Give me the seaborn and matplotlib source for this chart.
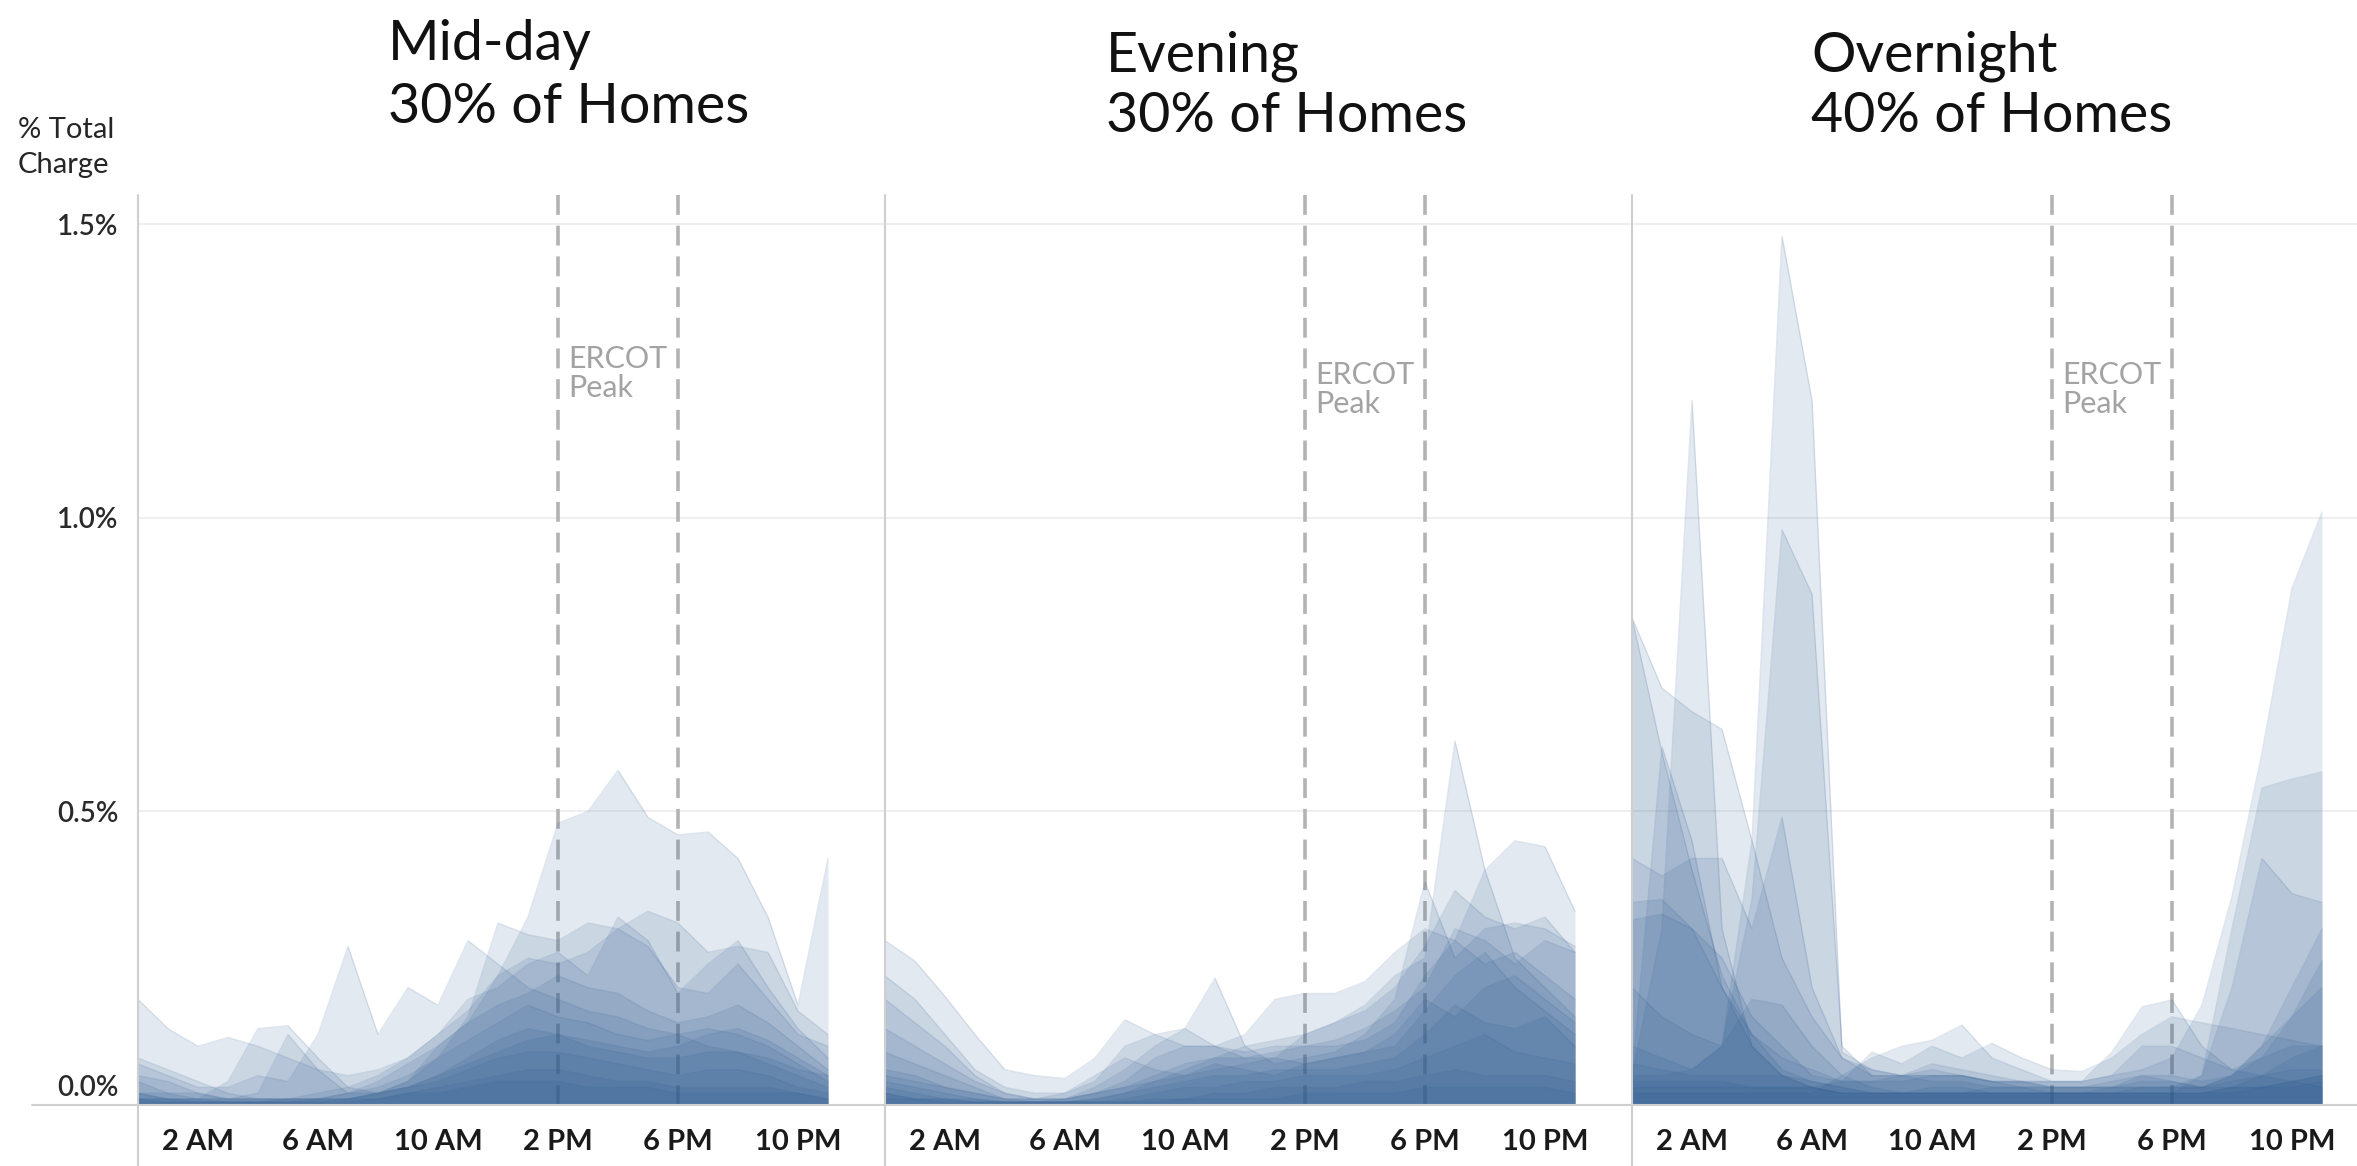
import numpy as np
import pandas as pd
import seaborn as sns
import matplotlib.pyplot as plt
import matplotlib.transforms as mtransforms
from matplotlib.lines import Line2D

# hourly share of total charge (%) per home
hours = list(range(24))
tick_hours = [2, 6, 10, 14, 18, 22]
tick_labels = ["2 AM", "6 AM", "10 AM", "2 PM", "6 PM", "10 PM"]
y_ticks = [0.0, 0.5, 1.0, 1.5]
y_tick_labels = ["0.0%", "0.5%", "1.0%", "1.5%"]
peak_hours = [14, 18]

panel_names = ["Mid-day", "Evening", "Overnight"]
panel_shares = ["30% of Homes", "30% of Homes", "40% of Homes"]

midday_a = [0.18, 0.13, 0.10, 0.115, 0.10, 0.08, 0.06, 0.05, 0.06, 0.08, 0.12, 0.16, 0.22, 0.32, 0.48, 0.50, 0.57, 0.49, 0.46, 0.465, 0.42, 0.32, 0.17, 0.42]
midday_b = [0.07, 0.05, 0.03, 0.03, 0.05, 0.04, 0.12, 0.27, 0.12, 0.20, 0.17, 0.28, 0.24, 0.20, 0.18, 0.16, 0.15, 0.13, 0.12, 0.10, 0.09, 0.08, 0.06, 0.05]
midday_c = [0.02, 0.01, 0.01, 0.04, 0.13, 0.135, 0.08, 0.03, 0.02, 0.04, 0.08, 0.15, 0.31, 0.29, 0.28, 0.31, 0.30, 0.33, 0.31, 0.26, 0.27, 0.26, 0.16, 0.12]
midday_d = [0.04, 0.02, 0.02, 0.01, 0.02, 0.12, 0.06, 0.02, 0.02, 0.04, 0.10, 0.14, 0.22, 0.25, 0.24, 0.26, 0.30, 0.27, 0.20, 0.19, 0.24, 0.18, 0.12, 0.10]
midday_e = [0.05, 0.04, 0.02, 0.01, 0.01, 0.01, 0.02, 0.03, 0.05, 0.08, 0.12, 0.18, 0.20, 0.24, 0.26, 0.22, 0.32, 0.28, 0.19, 0.24, 0.28, 0.20, 0.13, 0.08]
midday_f = [0.02, 0.02, 0.01, 0.01, 0.01, 0.01, 0.01, 0.02, 0.04, 0.07, 0.10, 0.14, 0.17, 0.19, 0.22, 0.20, 0.19, 0.16, 0.14, 0.15, 0.17, 0.14, 0.10, 0.06]
midday_g = [0.01, 0.01, 0.01, 0.005, 0.005, 0.01, 0.01, 0.02, 0.03, 0.05, 0.08, 0.11, 0.14, 0.17, 0.15, 0.14, 0.12, 0.11, 0.12, 0.13, 0.12, 0.10, 0.07, 0.04]
midday_h = [0.01, 0.01, 0.005, 0.005, 0.005, 0.005, 0.01, 0.01, 0.02, 0.03, 0.05, 0.08, 0.11, 0.13, 0.12, 0.10, 0.09, 0.08, 0.08, 0.09, 0.09, 0.07, 0.05, 0.03]
midday_i = [0.01, 0.005, 0.005, 0.005, 0.005, 0.005, 0.005, 0.01, 0.02, 0.03, 0.04, 0.06, 0.08, 0.09, 0.09, 0.08, 0.07, 0.06, 0.05, 0.06, 0.06, 0.05, 0.03, 0.02]
midday_j = [0.005, 0.005, 0.005, 0.005, 0.005, 0.005, 0.005, 0.005, 0.01, 0.02, 0.03, 0.04, 0.05, 0.06, 0.06, 0.05, 0.04, 0.04, 0.03, 0.03, 0.03, 0.03, 0.02, 0.01]
midday_k = [0.02, 0.01, 0.01, 0.01, 0.01, 0.01, 0.01, 0.01, 0.01, 0.02, 0.02, 0.03, 0.04, 0.04, 0.04, 0.03, 0.03, 0.03, 0.02, 0.02, 0.02, 0.02, 0.02, 0.01]
midday_l = [0.08, 0.06, 0.04, 0.02, 0.01, 0.01, 0.01, 0.01, 0.02, 0.03, 0.05, 0.07, 0.09, 0.11, 0.12, 0.11, 0.10, 0.09, 0.10, 0.12, 0.13, 0.11, 0.08, 0.05]

evening_a = [0.28, 0.245, 0.185, 0.12, 0.06, 0.05, 0.045, 0.08, 0.145, 0.12, 0.10, 0.10, 0.12, 0.18, 0.19, 0.19, 0.21, 0.26, 0.30, 0.28, 0.40, 0.45, 0.44, 0.33]
evening_b = [0.02, 0.01, 0.01, 0.005, 0.005, 0.005, 0.01, 0.02, 0.03, 0.04, 0.06, 0.08, 0.10, 0.11, 0.12, 0.14, 0.17, 0.22, 0.25, 0.62, 0.40, 0.25, 0.20, 0.15]
evening_c = [0.22, 0.18, 0.12, 0.06, 0.03, 0.02, 0.02, 0.04, 0.10, 0.12, 0.13, 0.10, 0.08, 0.08, 0.12, 0.14, 0.16, 0.20, 0.27, 0.365, 0.32, 0.30, 0.32, 0.26]
evening_d = [0.18, 0.14, 0.10, 0.05, 0.02, 0.01, 0.01, 0.03, 0.06, 0.10, 0.13, 0.216, 0.10, 0.07, 0.08, 0.09, 0.12, 0.18, 0.38, 0.25, 0.30, 0.31, 0.30, 0.27]
evening_e = [0.13, 0.10, 0.07, 0.04, 0.02, 0.01, 0.01, 0.02, 0.04, 0.08, 0.10, 0.10, 0.09, 0.10, 0.10, 0.11, 0.13, 0.16, 0.20, 0.30, 0.28, 0.24, 0.28, 0.26]
evening_f = [0.09, 0.07, 0.05, 0.03, 0.01, 0.01, 0.01, 0.02, 0.03, 0.05, 0.07, 0.08, 0.08, 0.09, 0.10, 0.10, 0.11, 0.14, 0.22, 0.28, 0.24, 0.26, 0.22, 0.18]
evening_g = [0.06, 0.05, 0.03, 0.02, 0.01, 0.005, 0.005, 0.01, 0.02, 0.04, 0.05, 0.06, 0.07, 0.08, 0.07, 0.08, 0.09, 0.10, 0.16, 0.22, 0.26, 0.20, 0.16, 0.12]
evening_h = [0.04, 0.03, 0.02, 0.01, 0.005, 0.005, 0.005, 0.01, 0.02, 0.03, 0.04, 0.05, 0.05, 0.06, 0.06, 0.06, 0.07, 0.08, 0.12, 0.17, 0.14, 0.13, 0.15, 0.10]
evening_i = [0.03, 0.02, 0.01, 0.01, 0.005, 0.005, 0.005, 0.005, 0.01, 0.02, 0.03, 0.03, 0.04, 0.04, 0.05, 0.05, 0.05, 0.06, 0.08, 0.10, 0.12, 0.09, 0.08, 0.07]
evening_j = [0.02, 0.01, 0.01, 0.005, 0.005, 0.005, 0.005, 0.005, 0.005, 0.01, 0.01, 0.02, 0.02, 0.03, 0.03, 0.03, 0.04, 0.04, 0.05, 0.06, 0.05, 0.05, 0.05, 0.04]
evening_k = [0.01, 0.01, 0.005, 0.005, 0.005, 0.005, 0.005, 0.005, 0.005, 0.005, 0.01, 0.01, 0.01, 0.01, 0.02, 0.02, 0.02, 0.02, 0.03, 0.03, 0.03, 0.03, 0.03, 0.02]
evening_l = [0.05, 0.04, 0.03, 0.02, 0.01, 0.01, 0.02, 0.05, 0.08, 0.06, 0.05, 0.07, 0.06, 0.05, 0.07, 0.08, 0.09, 0.12, 0.18, 0.15, 0.20, 0.22, 0.18, 0.14]

overnight_a = [0.20, 0.15, 0.12, 0.10, 0.45, 1.48, 1.20, 0.09, 0.06, 0.05, 0.05, 0.05, 0.04, 0.04, 0.03, 0.03, 0.03, 0.03, 0.03, 0.03, 0.05, 0.10, 0.20, 0.30]
overnight_b = [0.05, 0.30, 1.20, 0.30, 0.10, 0.05, 0.03, 0.02, 0.02, 0.02, 0.03, 0.03, 0.02, 0.02, 0.02, 0.02, 0.02, 0.02, 0.02, 0.02, 0.03, 0.05, 0.08, 0.10]
overnight_c = [0.10, 0.08, 0.06, 0.10, 0.35, 0.98, 0.87, 0.10, 0.05, 0.05, 0.04, 0.04, 0.03, 0.03, 0.02, 0.02, 0.03, 0.05, 0.04, 0.03, 0.05, 0.10, 0.15, 0.20]
overnight_d = [0.83, 0.71, 0.67, 0.64, 0.45, 0.25, 0.15, 0.08, 0.06, 0.05, 0.07, 0.06, 0.05, 0.04, 0.04, 0.04, 0.05, 0.06, 0.08, 0.17, 0.355, 0.60, 0.88, 1.01]
overnight_e = [0.83, 0.60, 0.40, 0.22, 0.12, 0.06, 0.04, 0.03, 0.02, 0.02, 0.02, 0.02, 0.02, 0.02, 0.02, 0.02, 0.02, 0.03, 0.03, 0.05, 0.30, 0.54, 0.555, 0.567]
overnight_f = [0.05, 0.61, 0.45, 0.20, 0.10, 0.05, 0.03, 0.02, 0.02, 0.02, 0.02, 0.02, 0.02, 0.02, 0.02, 0.02, 0.02, 0.02, 0.02, 0.05, 0.20, 0.42, 0.36, 0.345]
overnight_g = [0.42, 0.39, 0.42, 0.42, 0.30, 0.49, 0.20, 0.08, 0.05, 0.05, 0.05, 0.05, 0.04, 0.04, 0.04, 0.04, 0.05, 0.10, 0.10, 0.08, 0.06, 0.08, 0.15, 0.246]
overnight_h = [0.345, 0.35, 0.30, 0.25, 0.15, 0.10, 0.05, 0.04, 0.04, 0.04, 0.05, 0.05, 0.04, 0.04, 0.03, 0.03, 0.04, 0.05, 0.05, 0.04, 0.05, 0.08, 0.10, 0.10]
overnight_i = [0.315, 0.325, 0.30, 0.20, 0.12, 0.08, 0.06, 0.04, 0.04, 0.05, 0.06, 0.05, 0.04, 0.03, 0.03, 0.03, 0.03, 0.04, 0.04, 0.03, 0.04, 0.05, 0.06, 0.06]
overnight_j = [0.05, 0.05, 0.06, 0.10, 0.18, 0.17, 0.10, 0.05, 0.03, 0.02, 0.02, 0.02, 0.02, 0.02, 0.02, 0.02, 0.02, 0.02, 0.02, 0.02, 0.03, 0.03, 0.04, 0.05]
overnight_k = [0.02, 0.02, 0.02, 0.02, 0.02, 0.02, 0.02, 0.05, 0.08, 0.10, 0.11, 0.136, 0.08, 0.06, 0.04, 0.04, 0.09, 0.167, 0.179, 0.10, 0.06, 0.05, 0.04, 0.03]
overnight_l = [0.03, 0.03, 0.03, 0.03, 0.03, 0.03, 0.03, 0.04, 0.09, 0.07, 0.10, 0.08, 0.105, 0.08, 0.06, 0.057, 0.08, 0.12, 0.15, 0.14, 0.13, 0.12, 0.11, 0.10]
overnight_m = [0.07, 0.06, 0.05, 0.05, 0.05, 0.05, 0.04, 0.03, 0.02, 0.02, 0.02, 0.02, 0.02, 0.02, 0.02, 0.02, 0.02, 0.02, 0.02, 0.02, 0.02, 0.03, 0.04, 0.05]
overnight_n = [0.04, 0.04, 0.04, 0.04, 0.03, 0.03, 0.03, 0.02, 0.02, 0.02, 0.02, 0.02, 0.03, 0.03, 0.03, 0.03, 0.03, 0.03, 0.03, 0.03, 0.03, 0.03, 0.03, 0.04]

panel_homes = {
    "Mid-day": [midday_a, midday_b, midday_c, midday_d, midday_e, midday_f,
                midday_g, midday_h, midday_i, midday_j, midday_k, midday_l],
    "Evening": [evening_a, evening_b, evening_c, evening_d, evening_e, evening_f,
                evening_g, evening_h, evening_i, evening_j, evening_k, evening_l],
    "Overnight": [overnight_a, overnight_b, overnight_c, overnight_d, overnight_e,
                  overnight_f, overnight_g, overnight_h, overnight_i, overnight_j,
                  overnight_k, overnight_l, overnight_m, overnight_n],
}

rows = []
for panel, homes in panel_homes.items():
    for k, vals in enumerate(homes):
        for h, v in zip(hours, vals):
            rows.append((panel, k, h, v))
df = pd.DataFrame(rows, columns=["panel", "home", "hour", "pct"])

sns.set_theme(style="white")
plt.rcParams['font.family'] = ['Lato', 'DejaVu Sans']

W, H = 2357, 1166
fig = plt.figure(figsize=(W / 100, H / 100), dpi=100)


def px_box(left, top, width, height):
    return [left / W, (H - top - height) / H, width / W, height / H]


blue = "#2c5a90"
panel_lefts = [138, 885, 1632]
panel_widths = [747, 747, 725]
title_x = [388, 1106, 1811]
title_base = [(60, 123), (71, 132), (71, 132)]
ercot_y = [1.294, 1.267, 1.267]

for i, name in enumerate(panel_names):
    ax = fig.add_axes(px_box(panel_lefts[i], 195, panel_widths[i], 910))
    sub = df[df.panel == name]
    for home, g in sub.groupby("home"):
        ax.fill_between(g.hour, 0, g.pct, color=blue, alpha=0.13, lw=0, zorder=2)
    sns.lineplot(data=sub, x="hour", y="pct", units="home", estimator=None,
                 color=blue, alpha=0.15, lw=1, ax=ax, zorder=3, legend=False)

    for yv in y_ticks[1:]:
        ax.axhline(yv, color="#ececec", lw=1.2, zorder=0)
    for ph in peak_hours:
        ax.axvline(ph, color="#b3b3b3", lw=2.6, dashes=(5.5, 3), zorder=1)
    ax.text(14.35, ercot_y[i], "ERCOT\nPeak", color="#a3a3a3", fontsize=22,
            va="top", ha="left", linespacing=1.05, zorder=5)

    ax.set_xlim(0, panel_widths[i] / 30)
    ax.set_ylim(0, 1.55)
    sns.despine(ax=ax, left=True, bottom=True)
    ax.set_xlabel("")
    ax.set_ylabel("")
    ax.set_xticks(tick_hours)
    ax.set_xticklabels(tick_labels, fontsize=21, fontweight="bold", color="#1a1a1a")
    ax.tick_params(axis="x", length=0, pad=17)
    if i == 0:
        ax.set_yticks(y_ticks)
        ax.set_yticklabels(y_tick_labels, fontsize=20, fontweight="semibold",
                           color="#2a2a2a")
        ax.tick_params(axis="y", length=0, pad=14)
        lab = ax.get_yticklabels()[0]
        lab.set_transform(lab.get_transform() +
                          mtransforms.ScaledTranslation(0, 14 / 72, fig.dpi_scale_trans))
    else:
        ax.set_yticks([])

    fig.text(title_x[i] / W, 1 - title_base[i][0] / H, name, fontsize=40,
             va="baseline", ha="left", color="#111111")
    fig.text(title_x[i] / W, 1 - title_base[i][1] / H, panel_shares[i], fontsize=40,
             va="baseline", ha="left", color="#111111")

    # panel divider / axis line
    fig.add_artist(Line2D([panel_lefts[i] / W] * 2, [0, (H - 195) / H],
                          color="#cfcfcf", lw=1.5))

# baseline across all panels
fig.add_artist(Line2D([32 / W, 1], [(H - 1105) / H] * 2, color="#cfcfcf", lw=1.5))

fig.text(18 / W, 1 - 138 / H, "% Total", fontsize=21, va="baseline", ha="left")
fig.text(18 / W, 1 - 173 / H, "Charge", fontsize=21, va="baseline", ha="left")

fig.savefig("out.png", dpi=100)
